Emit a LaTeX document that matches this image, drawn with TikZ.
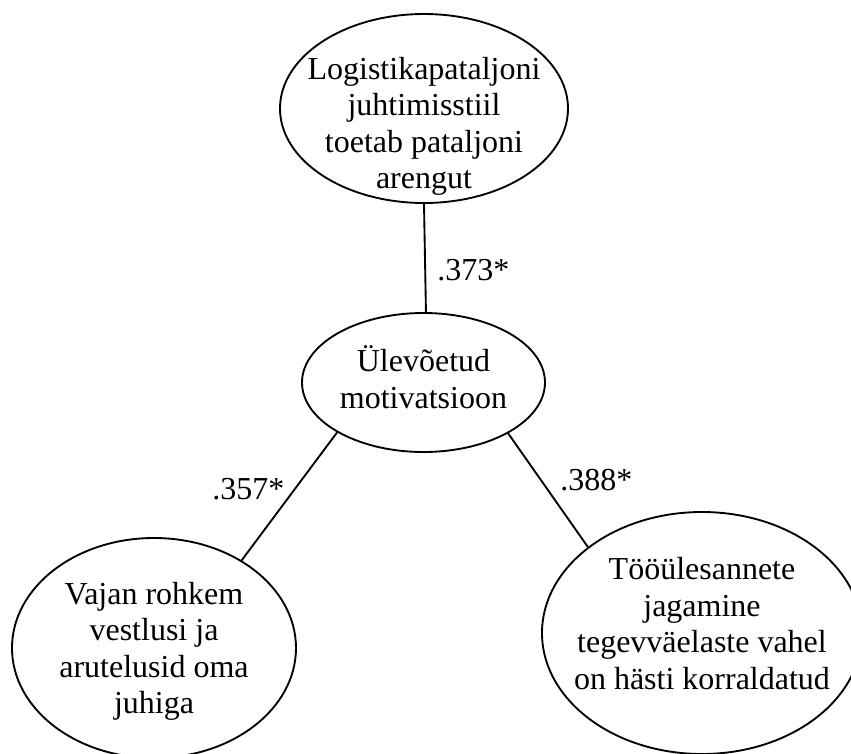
\documentclass[tikz,border=0pt]{standalone}
\usepackage{fontspec}
\setmainfont{Liberation Serif}
\usetikzlibrary{shapes.geometric}
\newcommand{\ovaltxt}[2]{\makebox[0pt]{\raisebox{#1}[0pt][0pt]{\begin{tabular}[t]{@{}c@{}}#2\end{tabular}}}}
\tikzset{
  latent/.style 2 args={ellipse, draw, line width=1.4pt, inner sep=0pt, minimum width=#1, minimum height=#2},
  coef/.style={anchor=base west, inner sep=0pt}
}
\begin{document}
\begin{tikzpicture}[x=0.75pt, y=-0.75pt, font=\fontsize{24}{27.4}\selectfont]
      \clip (0,0) rectangle (851,754);
      \draw
        (424,108.5) node[latent={216pt}{141.75pt}] (juht){\ovaltxt{22pt}{Logistikapataljoni\\juhtimisstiil\\toetab pataljoni\\arengut}}
        (423.5,382.5) node[latent={182.25pt}{104.25pt}] (motiv){\ovaltxt{8pt}{Ülevõetud\\motivatsioon}}
        (154,648) node[latent={213pt}{165pt}] (vestl){\ovaltxt{33pt}{Vajan rohkem\\vestlusi ja\\arutelusid oma\\juhiga}}
        (702,633) node[latent={240pt}{181.5pt}] (too){\ovaltxt{40pt}{Tööülesannete\\jagamine\\tegevväelaste vahel\\on hästi korraldatud}};
      \begin{scope}[-, line width=1.4pt]
        \draw (juht.270) to (motiv.88);
        \draw (motiv.210) to (vestl.45);
        \draw (motiv.329) to (too.143);
      \end{scope}
      \node[coef] (k1) at (437,280) {.373*};
      \node[coef] (k2) at (212,499) {.357*};
      \node[coef] (k3) at (560,490) {.388*};
    \end{tikzpicture}
\end{document}
